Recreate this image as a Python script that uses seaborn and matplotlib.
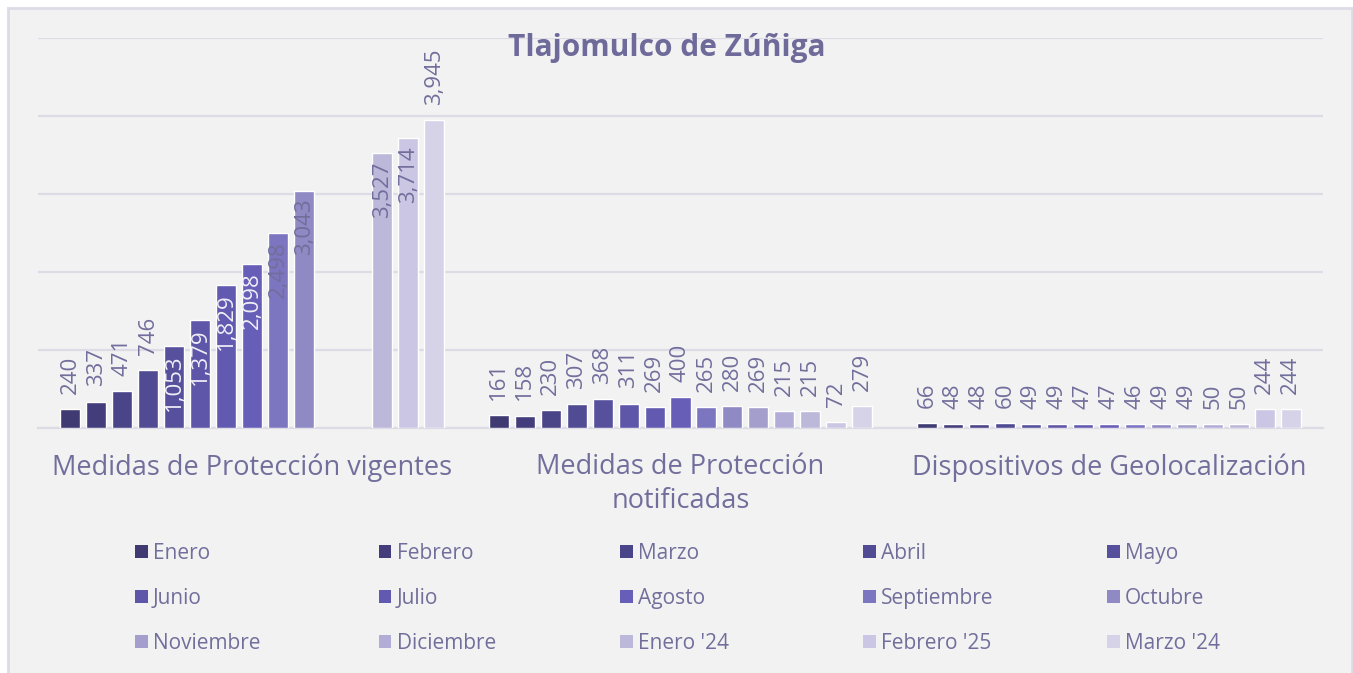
import numpy as np
import pandas as pd
import matplotlib
matplotlib.use("Agg")
import matplotlib.pyplot as plt
import matplotlib.patches as mpatches
import seaborn as sns

# Data
CATEGORIES = ["Medidas de Protección vigentes",
              "Medidas de Protección\nnotificadas",
              "Dispositivos de Geolocalización"]
MONTHS = ["Enero", "Febrero", "Marzo", "Abril", "Mayo", "Junio", "Julio",
          "Agosto", "Septiembre", "Octubre", "Noviembre", "Diciembre",
          "Enero '24", "Febrero '25", "Marzo '24"]
VIGENTES = [240, 337, 471, 746, 1053, 1379, 1829, 2098, 2498, 3043,
            np.nan, np.nan, 3527, 3714, 3945]
NOTIFICADAS = [161, 158, 230, 307, 368, 311, 269, 400, 265, 280,
               269, 215, 215, 72, 279]
GEOLOC = [66, 48, 48, 60, 49, 49, 47, 47, 46, 49, 49, 50, 50, 244, 244]

PALETTE = ["#3f3a72", "#433d7c", "#4a4488", "#504b93", "#57509d",
           "#5e56a8", "#625ab0", "#675eb8", "#7c75bf", "#8f89c4",
           "#a39ecc", "#b1add6", "#bcb8da", "#cac6e3", "#d6d3e8"]

TEXT = "#726e9c"
GRID = "#dddbe6"
BG = "#f2f2f2"

rows = []
for cat, vals in zip(CATEGORIES, [VIGENTES, NOTIFICADAS, GEOLOC]):
    for m, v in zip(MONTHS, vals):
        rows.append({"categoria": cat, "mes": m, "valor": v})
df = pd.DataFrame(rows)

sns.set_theme(style="white")
plt.rcParams["font.family"] = ["Open Sans", "DejaVu Sans"]

W, H = 1353, 673
fig = plt.figure(figsize=(W / 100, H / 100), dpi=100)
fig.patch.set_facecolor("white")
fig.patches.append(mpatches.Rectangle((8 / W, -0.02), (W - 9) / W, 1 - 8 / H + 0.02,
                                      transform=fig.transFigure, facecolor=BG,
                                      edgecolor=GRID, linewidth=2, zorder=-5))

ax = fig.add_axes([38 / W, (H - 428) / H, (1323 - 38) / W, (428 - 38) / H])
ax.set_zorder(2)
ax.set_facecolor("none")

sns.barplot(data=df, x="categoria", y="valor", hue="mes", order=CATEGORIES,
            hue_order=MONTHS, palette=PALETTE, saturation=1, width=0.91,
            gap=0.23, legend=False, ax=ax, zorder=3)

ax.set_ylim(0, 5000)
ax.set_xlim(-0.5, 2.5)
ax.set_yticks(range(0, 5001, 1000))
ax.set_yticklabels([])
ax.tick_params(axis="y", length=0)
ax.grid(axis="y", color=GRID, linewidth=1.6, zorder=0)
ax.set_axisbelow(True)
for s in ["top", "right", "left"]:
    ax.spines[s].set_visible(False)
ax.spines["bottom"].set_color(GRID)
ax.spines["bottom"].set_linewidth(1.6)
ax.set_xlabel("")
ax.set_ylabel("")
ax.set_xticks([0, 1, 2])
ax.set_xticklabels(CATEGORIES, fontsize=19.5, color=TEXT, linespacing=1.3)
ax.set_xticks([-0.5, 0.5, 1.5, 2.5], minor=True)
ax.tick_params(axis="x", which="major", length=0, pad=18)
ax.tick_params(axis="x", which="minor", length=7, width=1.6, color=GRID)

# value labels
for container in ax.containers:
    for bar in container:
        v = bar.get_height()
        if np.isnan(v) or v == 0:
            continue
        x = bar.get_x() + bar.get_width() / 2
        txt = f"{int(v):,}"
        inside = 1000 <= v < 3800
        if inside:
            r, g, b, _ = bar.get_facecolor()
            lum = 0.299 * r + 0.587 * g + 0.114 * b
            col = "#f0eff7" if lum < 0.45 else TEXT
            ax.annotate(txt, (x, v), xytext=(0, -6), textcoords="offset points",
                        ha="center", va="top", rotation=90, fontsize=16,
                        color=col, zorder=5)
        else:
            ax.annotate(txt, (x, v), xytext=(0, 11), textcoords="offset points",
                        ha="center", va="bottom", rotation=90, fontsize=16,
                        color=TEXT, zorder=5)

fig.text(667 / W, 1 - 48 / H, "Tlajomulco de Zúñiga", ha="center", va="center",
         fontsize=21.5, fontweight="bold", color="#6e6a9a", zorder=6)

# legend: five columns laid out row by row
col_x = [135, 379, 620, 863, 1107]
for c, xpx in enumerate(col_x):
    idx = [r * 5 + c for r in range(3)]
    handles = [mpatches.Patch(facecolor=PALETTE[i], edgecolor="none") for i in idx]
    labels = [MONTHS[i] for i in idx]
    leg = fig.legend(handles, labels, loc="upper left",
                     bbox_to_anchor=(xpx / W, 1 - 543 / H), frameon=False,
                     fontsize=15, handlelength=0.6, handleheight=0.6,
                     handletextpad=0.25, labelspacing=1.15, borderpad=0,
                     borderaxespad=0)
    for t in leg.get_texts():
        t.set_color(TEXT)

fig.savefig("out.png", dpi=100, facecolor=fig.get_facecolor())
